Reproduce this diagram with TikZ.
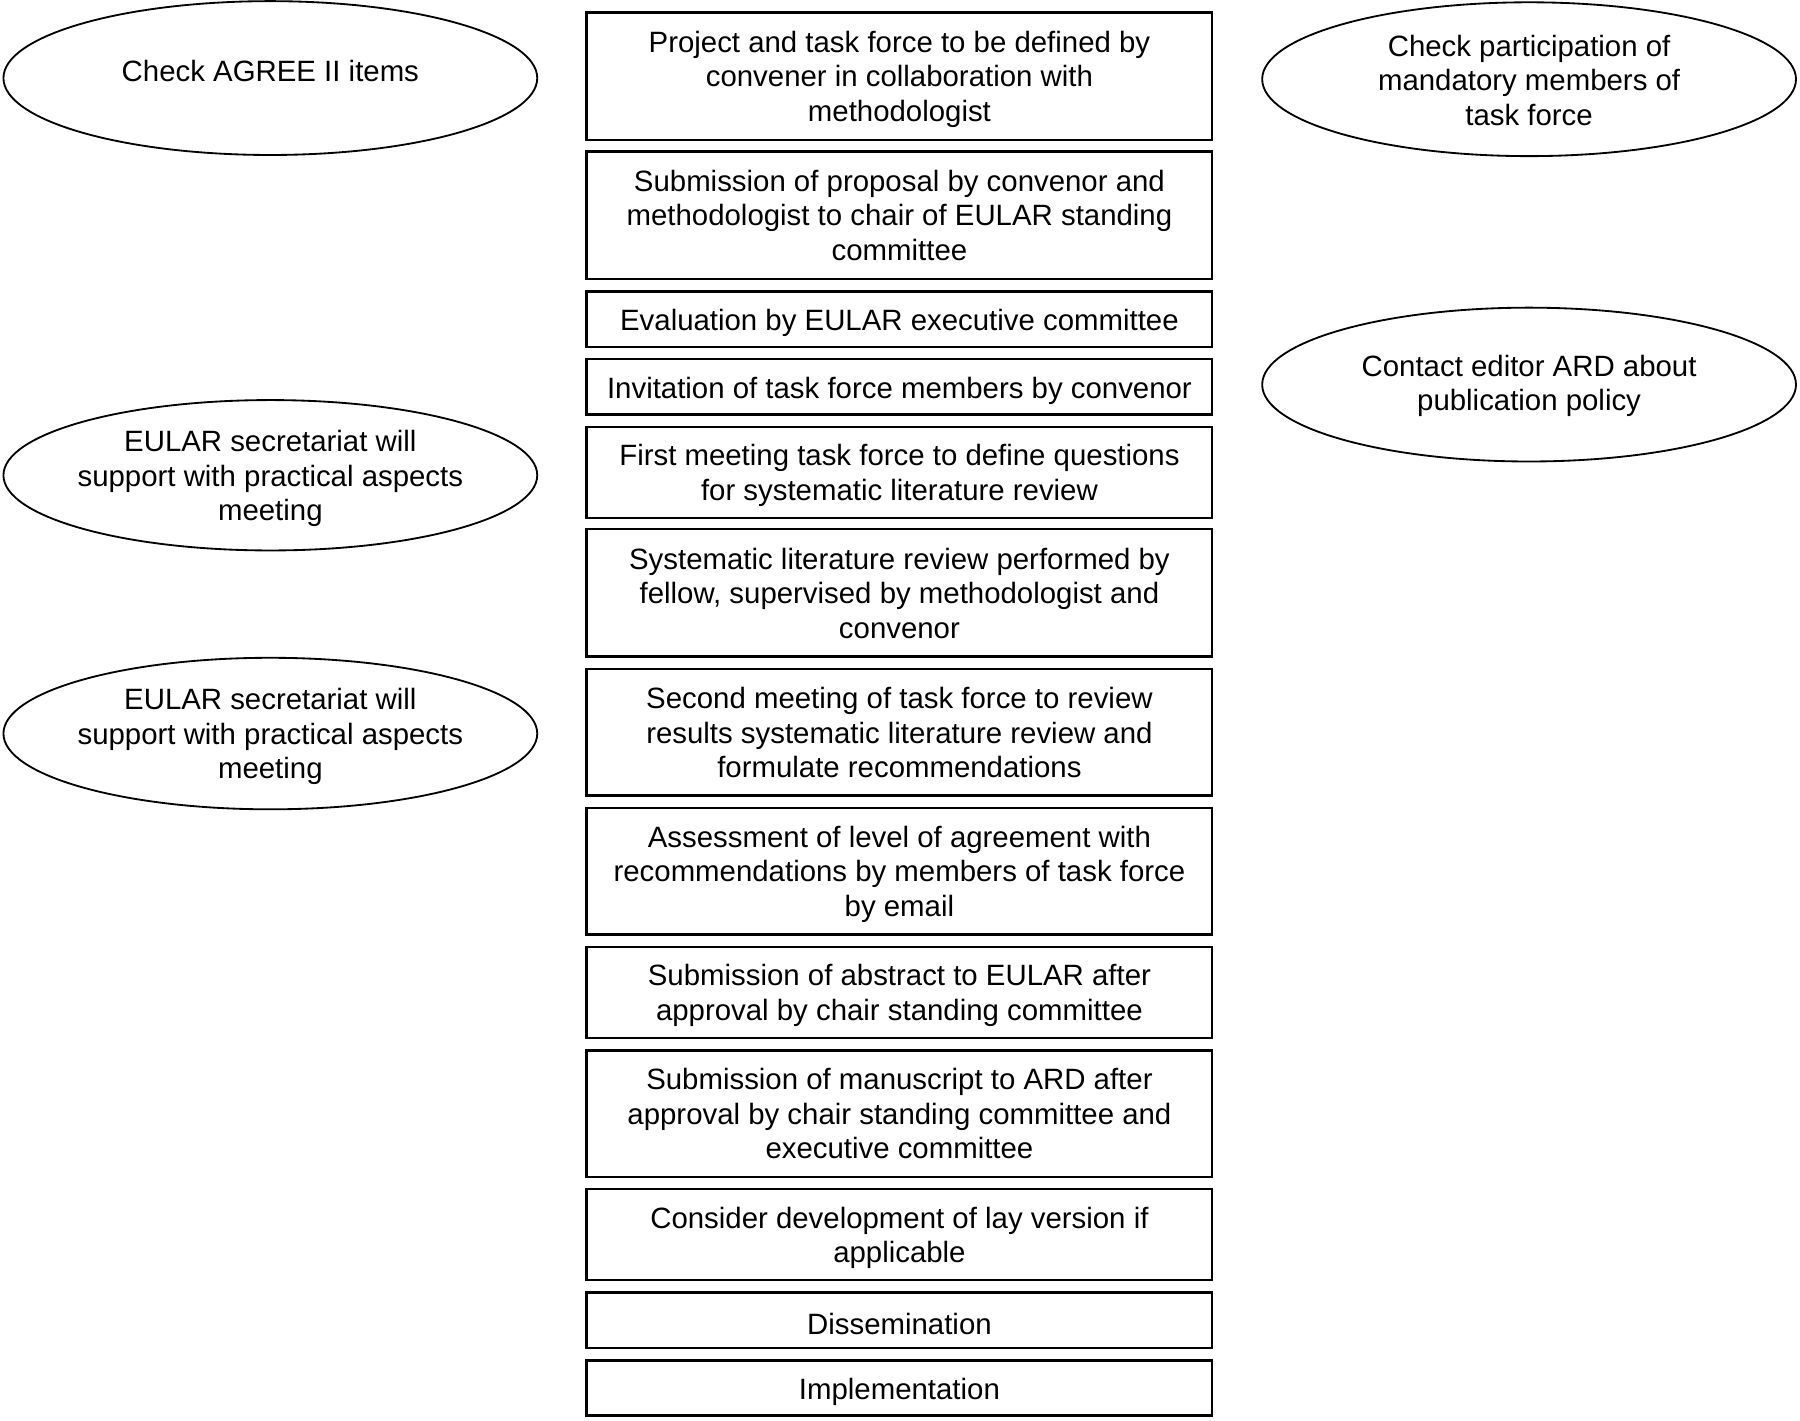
\documentclass[tikz,border=0pt]{standalone}
\usepackage{fontspec}
\setmainfont{Liberation Sans}
\usetikzlibrary{shapes.geometric}
\begin{document}
\begin{tikzpicture}[x=0.5pt,y=-0.5pt,
  txt/.style={font=\fontsize{12.8}{15}\selectfont, align=center, inner sep=0pt},
  stepbox/.style={txt, draw=black, line width=1pt, rectangle, minimum width=272.5pt, execute at begin node={\rule{0pt}{12.6pt}}},
  multibox/.style={stepbox, text depth=-0.3pt},
  note/.style={draw=black, line width=0.8pt, ellipse, minimum width=232.5pt, minimum height=67pt, inner sep=0pt}]
\useasboundingbox (0,0) rectangle (1568,1237);
\node[multibox, minimum height=55.5pt] (b1) at (783.5,66.5) {Project and task force to be defined by\\convener in collaboration with\\methodologist};
\node[multibox, minimum height=55.5pt] (b2) at (783.5,187.5) {Submission of proposal by convenor and\\methodologist to chair of EULAR standing\\committee};
\node[stepbox, minimum height=24pt] (b3) at (783.5,278) {Evaluation by EULAR executive committee};
\node[stepbox, minimum height=24pt] (b4) at (783.5,337) {Invitation of task force members by convenor};
\node[multibox, minimum height=39.5pt] (b5) at (783.5,411.5) {First meeting task force to define questions\\for systematic literature review};
\node[multibox, minimum height=55.5pt] (b6) at (783.5,516.5) {Systematic literature review performed by\\fellow, supervised by methodologist and\\convenor};
\node[multibox, minimum height=55pt] (b7) at (783.5,638) {Second meeting of task force to review\\results systematic literature review and\\formulate recommendations};
\node[multibox, minimum height=55pt] (b8) at (783.5,759) {Assessment of level of agreement with\\recommendations by members of task force\\by email};
\node[multibox, minimum height=39.5pt] (b9) at (783.5,864.5) {Submission of abstract to EULAR after\\approval by chair standing committee};
\node[multibox, minimum height=55pt] (b10) at (783.5,970) {Submission of manuscript to ARD after\\approval by chair standing committee and\\executive committee};
\node[multibox, minimum height=39.5pt] (b11) at (783.5,1075.5) {Consider development of lay version if\\applicable};
\node[stepbox, minimum height=24pt] (b12) at (783.5,1150) {Dissemination};
\node[stepbox, minimum height=24pt] (b13) at (783.5,1209) {Implementation};
\node[note] (e1) at (235.5,68) {};
\node[txt] (e1t) at (235.5,62) {Check AGREE II items};
\node[note] (e2) at (1332,69) {};
\node[txt] (e2t) at (1332,70) {Check participation of\\mandatory members of\\task force};
\node[note] (e3) at (1332,335) {};
\node[txt] (e3t) at (1332,336) {Contact editor ARD about\\publication policy};
\node[note, minimum height=65.5pt] (e4) at (235.5,414) {};
\node[txt] (e4t) at (235.5,417) {EULAR secretariat will\\support with practical aspects\\meeting};
\node[note, minimum height=66pt] (e5) at (235.5,639) {};
\node[txt] (e5t) at (235.5,641.5) {EULAR secretariat will\\support with practical aspects\\meeting};
\end{tikzpicture}
\end{document}
